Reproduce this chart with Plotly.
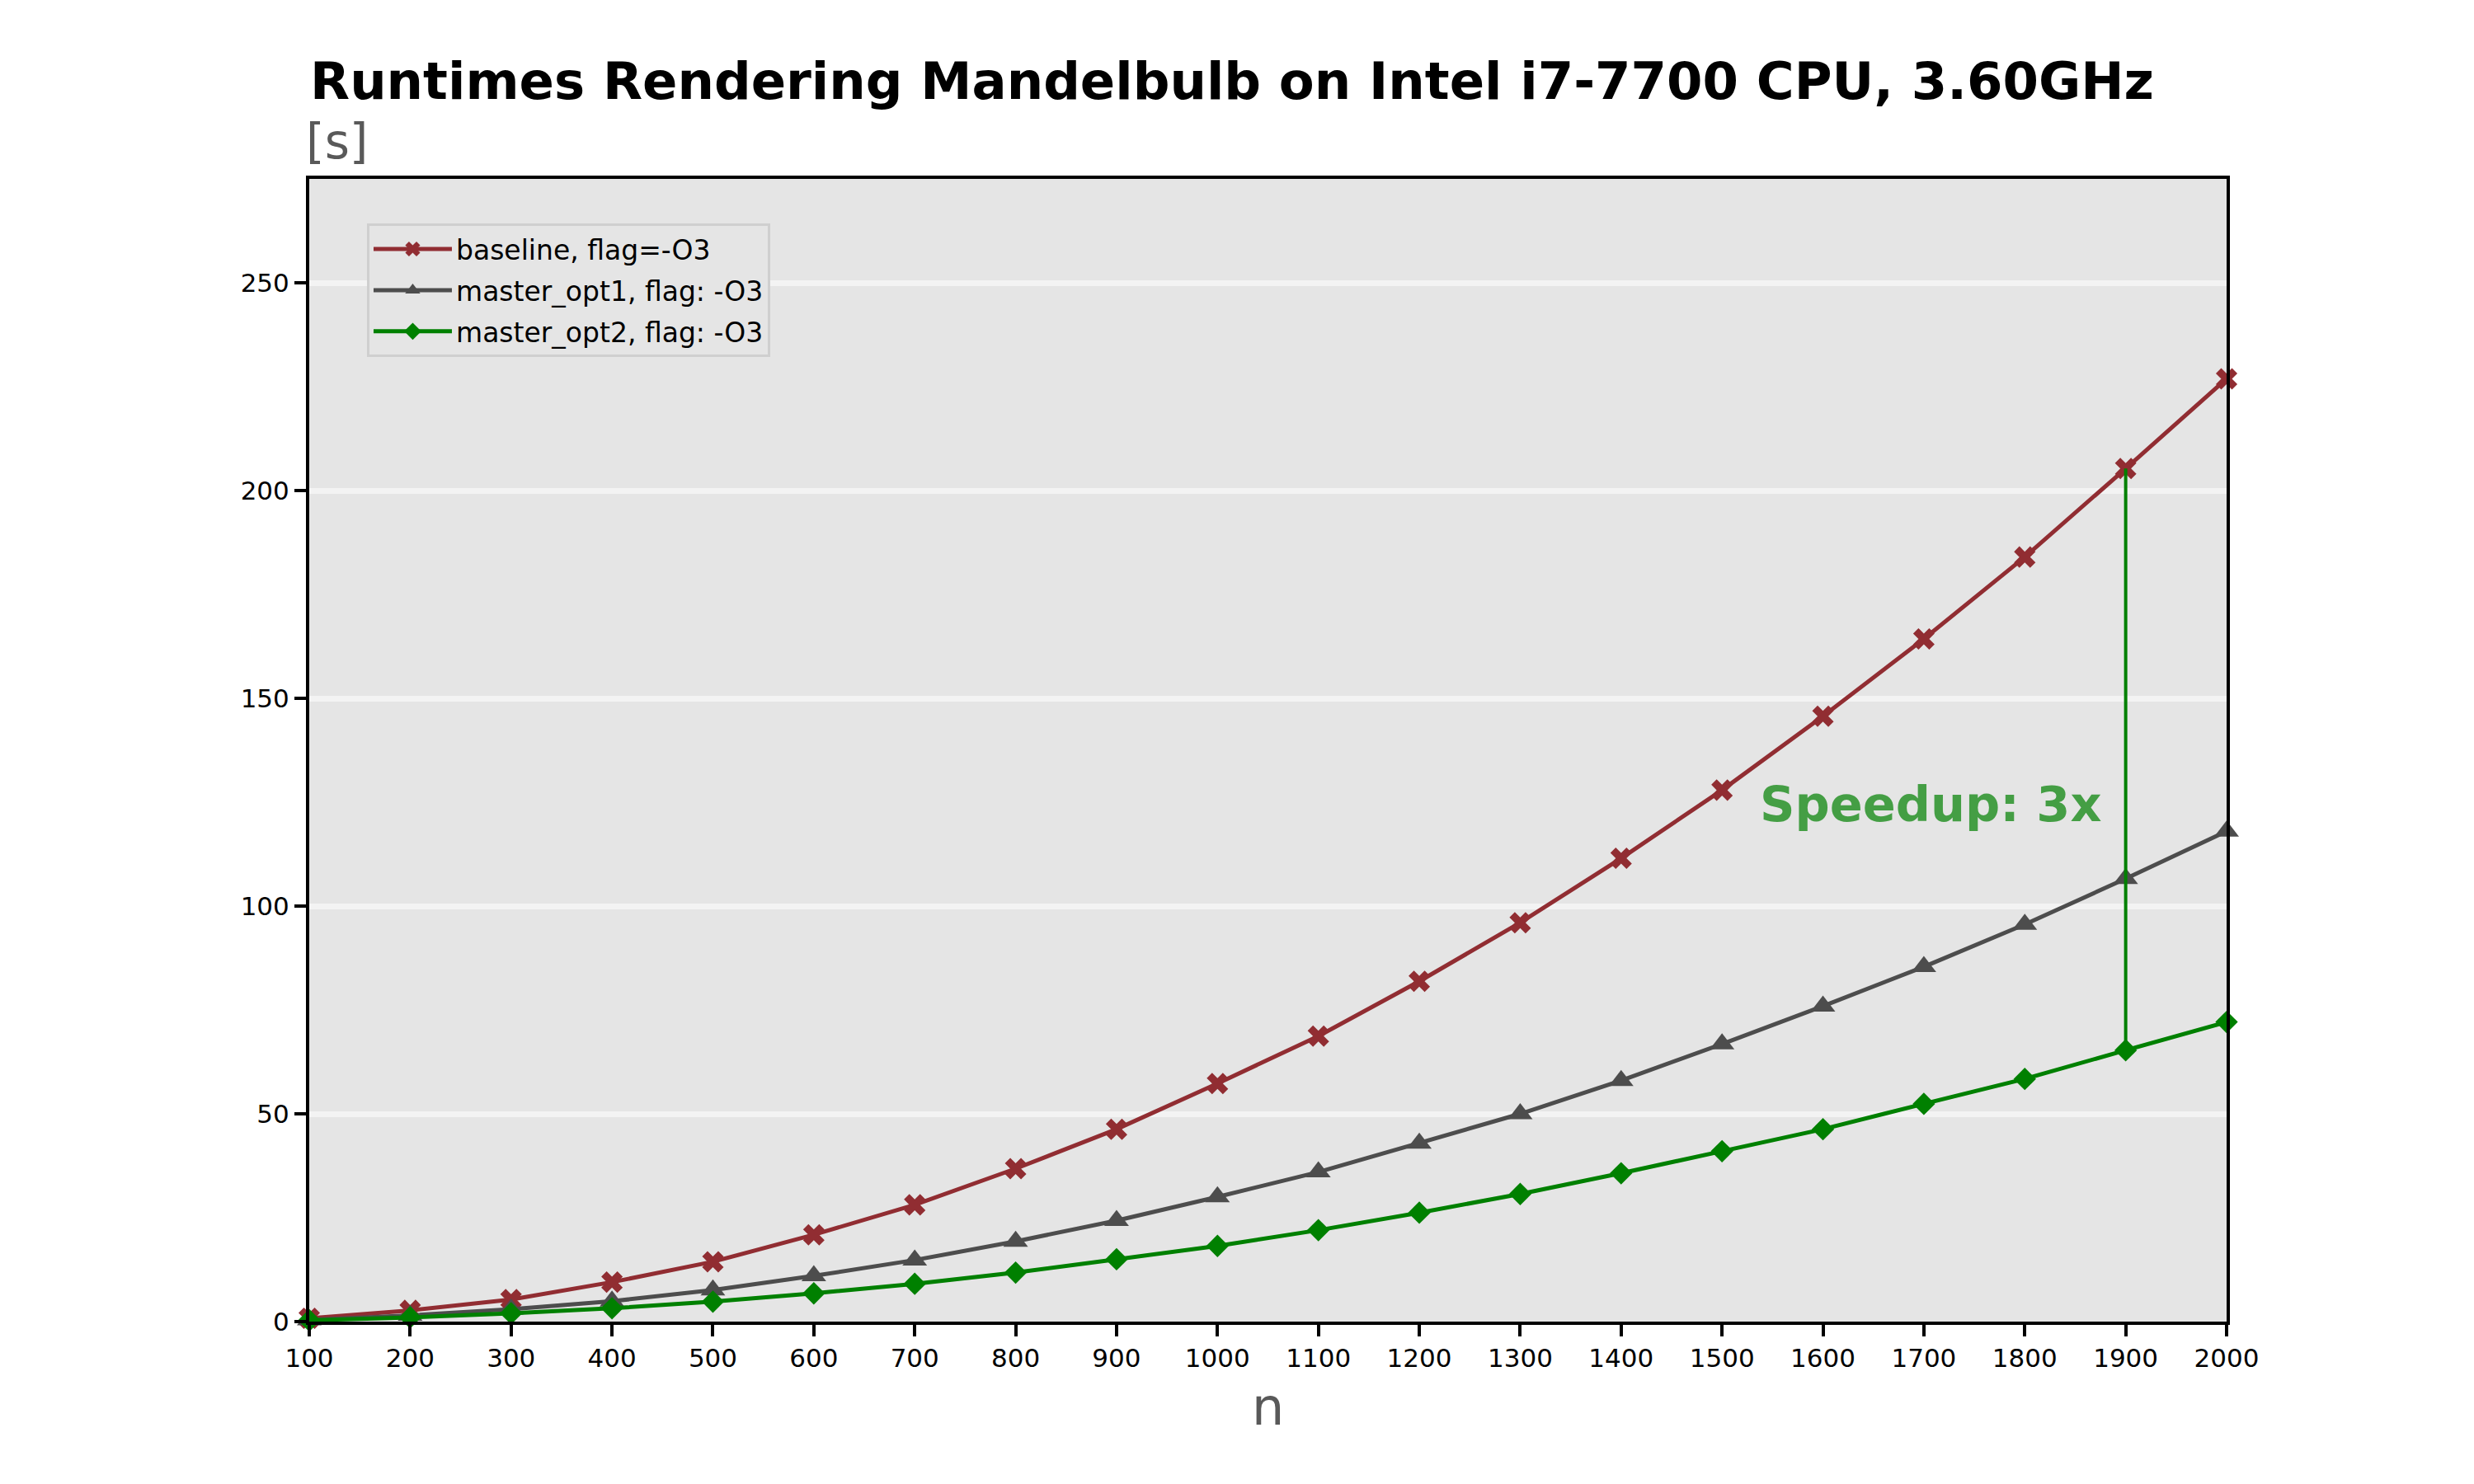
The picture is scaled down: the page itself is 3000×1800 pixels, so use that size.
import plotly.graph_objects as go

n_values = [100, 200, 300, 400, 500, 600, 700, 800, 900, 1000,
            1100, 1200, 1300, 1400, 1500, 1600, 1700, 1800, 1900, 2000]
baseline = [0.8, 2.7, 5.3, 9.5, 14.4, 20.9, 28.1, 36.8, 46.3, 57.3,
            68.7, 81.9, 96.0, 111.5, 127.9, 145.7, 164.3, 184.0, 205.3, 226.9]
master_opt1 = [0.4, 1.5, 3.0, 4.9, 7.6, 11.0, 14.8, 19.3, 24.3, 30.0,
               36.0, 42.9, 50.0, 58.0, 66.8, 75.9, 85.4, 95.6, 106.6, 118.0]
master_opt2 = [0.3, 1.0, 2.0, 3.2, 4.8, 6.8, 9.1, 11.8, 15.0, 18.2,
               22.0, 26.2, 30.7, 35.7, 41.0, 46.3, 52.4, 58.4, 65.3, 72.1]
series_names = ["baseline, flag=-O3", "master_opt1, flag: -O3", "master_opt2, flag: -O3"]
y_ticks = [0, 50, 100, 150, 200, 250]
speedup_n = 1900
speedup_label = "Speedup: 3x"
title_text = "Runtimes Rendering Mandelbulb on Intel i7-7700 CPU, 3.60GHz"

FONT = "DejaVu Sans"
fig = go.Figure()

styles = [
    dict(color="#912d32", symbol="x", size=23),
    dict(color="#4d4d4d", symbol="triangle-up", size=26),
    dict(color="#008000", symbol="diamond", size=21),
]
for name, ys, st in zip(series_names, [baseline, master_opt1, master_opt2], styles):
    fig.add_trace(go.Scatter(
        x=n_values, y=ys, name=name, mode="lines+markers",
        legendgroup=name,
        line=dict(color=st["color"], width=5),
        marker=dict(color=st["color"], symbol=st["symbol"], size=st["size"], line=dict(width=0)),
        cliponaxis=False,
    ))

i = n_values.index(speedup_n)
fig.add_trace(go.Scatter(
    x=[speedup_n, speedup_n], y=[master_opt2[i], baseline[i]],
    mode="lines", line=dict(color="#008000", width=4), showlegend=False, hoverinfo="skip",
))

fig.add_annotation(x=1707, y=124.5, xref="x", yref="y", text="<b>" + speedup_label + "</b>",
                   showarrow=False, font=dict(family=FONT, size=59, color="rgba(0,128,0,0.7)"),
                   xanchor="center", yanchor="middle")

fig.add_annotation(x=0, y=1.0, xref="paper", yref="paper", text="[s]", showarrow=False,
                   font=dict(family=FONT, size=58, color="#595959"),
                   xanchor="left", yanchor="bottom", xshift=-6, yshift=9)
fig.add_annotation(x=0.5, y=0, xref="paper", yref="paper", text="n", showarrow=False,
                   font=dict(family=FONT, size=62, color="#595959"),
                   xanchor="center", yanchor="top", yshift=-65)
fig.add_annotation(x=0, y=1.0, xref="paper", yref="paper", text="<b>" + title_text + "</b>",
                   showarrow=False, font=dict(family=FONT, size=62.5, color="black"),
                   xanchor="left", yanchor="bottom", yshift=80, xshift=-1)

fig.update_layout(
    width=3000, height=1800,
    margin=dict(l=375, r=300, t=217, b=197),
    paper_bgcolor="white", plot_bgcolor="#e5e5e5",
    font=dict(family=FONT, size=31, color="black"),
    legend=dict(x=0.0301, y=0.961, xanchor="left", yanchor="top",
                bgcolor="#e5e5e5", bordercolor="#cfcfcf", borderwidth=3,
                font=dict(family=FONT, size=33, color="black"),
                traceorder="grouped", tracegroupgap=4, itemwidth=95),
    showlegend=True,
)
fig.update_xaxes(range=[100, 2000], tickvals=n_values, showgrid=False, zeroline=False,
                 showline=True, linecolor="black", linewidth=4, mirror=True,
                 ticks="outside", ticklen=14, tickwidth=4, tickcolor="black",
                 tickfont=dict(family=FONT, size=31, color="black"))
fig.update_yaxes(range=[0, 275], tickvals=y_ticks, showgrid=True, gridcolor="#f3f3f3", gridwidth=7,
                 zeroline=False, showline=True, linecolor="black", linewidth=4, mirror=True,
                 ticks="outside", ticklen=14, tickwidth=4, tickcolor="black",
                 tickfont=dict(family=FONT, size=31, color="black"))

fig.write_html("out.html")
